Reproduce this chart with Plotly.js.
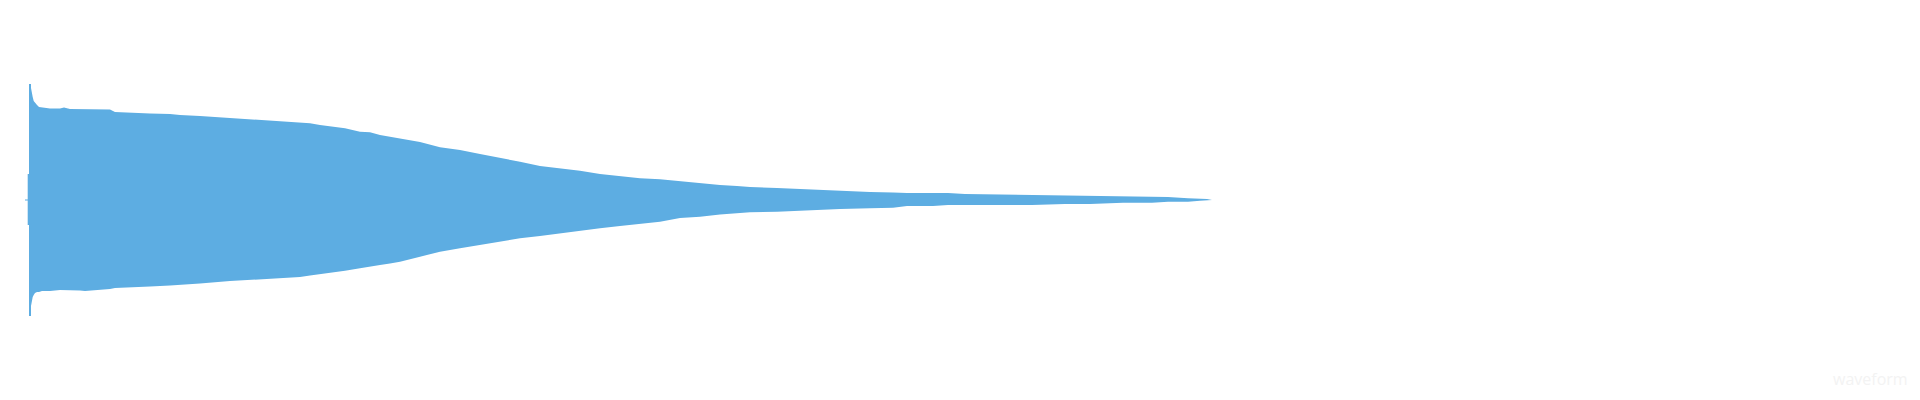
<!DOCTYPE html>
<html>
<head>
<meta charset="utf-8">
<script src="https://cdn.plot.ly/plotly-3.0.1.min.js"></script>
<style>
  html, body { margin: 0; padding: 0; background: #ffffff; }
  #chart { width: 1920px; height: 400px; }
</style>
</head>
<body>
<div id="chart"></div>
<script>
// Time (seconds) of each envelope reading
const timeSec = [
  0.250, 0.277, 0.277, 0.290, 0.290, 0.310, 0.310, 0.317, 0.327, 0.337, 0.350, 0.370, 0.390,
  0.420, 0.500, 0.600, 0.640, 0.700, 0.800, 0.850, 1.000, 1.100, 1.150, 1.300, 1.500, 1.700,
  1.800, 2.000, 2.300, 2.600, 2.800, 2.900, 3.000, 3.100, 3.200, 3.330, 3.450, 3.600, 3.700,
  3.800, 3.900, 4.000, 4.200, 4.400, 4.600, 4.800, 5.000, 5.200, 5.400, 5.600, 5.800,
  6.000, 6.200, 6.400, 6.600, 6.800, 7.000, 7.200, 7.370, 7.500, 7.770, 7.970, 8.170,
  8.400, 8.700, 8.930, 9.070, 9.330, 9.480, 9.650, 10.320, 10.650, 10.900, 11.230,
  11.520, 11.680, 11.880, 12.000, 12.070, 12.120
];

// Upper envelope (positive peak amplitude)
const upperAmp = [
  0.003, 0.003, 0.130, 0.130, 0.580, 0.580, 0.560, 0.535, 0.515, 0.495, 0.485, 0.475, 0.465,
  0.4625, 0.4575, 0.458, 0.463, 0.455, 0.4545, 0.453, 0.455, 0.4525, 0.440, 0.4385, 0.433, 0.430,
  0.425, 0.420, 0.410, 0.400, 0.395, 0.392, 0.3885, 0.3835, 0.375, 0.3665, 0.3585, 0.3415, 0.3385,
  0.325, 0.3165, 0.305, 0.290, 0.2635, 0.250, 0.230, 0.2115, 0.1915, 0.170, 0.1585, 0.1465,
  0.130, 0.120, 0.1085, 0.1035, 0.0935, 0.085, 0.075, 0.070, 0.065, 0.060, 0.055, 0.050,
  0.045, 0.040, 0.0375, 0.035, 0.035, 0.035, 0.030, 0.025, 0.025, 0.020, 0.020,
  0.015, 0.015, 0.0085, 0.0085, 0.005, 0.000
];

// Lower envelope (negative peak amplitude)
const lowerAmp = [
  -0.003, -0.003, -0.125, -0.125, -0.580, -0.580, -0.530, -0.510, -0.485, -0.475, -0.465, -0.460, -0.460,
  -0.455, -0.455, -0.450, -0.450, -0.450, -0.4525, -0.455, -0.450, -0.445, -0.440, -0.4385, -0.433, -0.428,
  -0.425, -0.4175, -0.405, -0.3965, -0.3925, -0.389, -0.385, -0.3775, -0.3715, -0.3635, -0.3535, -0.3415, -0.335,
  -0.325, -0.3175, -0.3085, -0.2835, -0.2585, -0.2415, -0.225, -0.2085, -0.1915, -0.180, -0.1665, -0.1535,
  -0.1415, -0.130, -0.120, -0.1085, -0.090, -0.0835, -0.0725, -0.0675, -0.0615, -0.0585, -0.0535, -0.050,
  -0.045, -0.0415, -0.0385, -0.030, -0.030, -0.025, -0.025, -0.025, -0.020, -0.020, -0.0135,
  -0.0135, -0.0085, -0.0085, -0.0035, -0.0035, 0.000
];

const waveColor = '#5dade2';

const traces = [
  { x: timeSec, y: upperAmp, type: 'scatter', mode: 'lines', name: 'upper',
    line: { width: 0, color: waveColor }, fill: 'tozeroy', fillcolor: waveColor,
    hoverinfo: 'skip', showlegend: false },
  { x: timeSec, y: lowerAmp, type: 'scatter', mode: 'lines', name: 'lower',
    line: { width: 0, color: waveColor }, fill: 'tozeroy', fillcolor: waveColor,
    hoverinfo: 'skip', showlegend: false }
];

const layout = {
  width: 1920, height: 400,
  margin: { l: 0, r: 0, t: 0, b: 0, pad: 0 },
  paper_bgcolor: '#ffffff', plot_bgcolor: '#ffffff',
  showlegend: false,
  xaxis: { range: [0, 19.2], autorange: false, showgrid: false, zeroline: false, showticklabels: false, ticks: '', showline: false, fixedrange: true },
  yaxis: { range: [-1, 1], autorange: false, showgrid: false, zeroline: false, showticklabels: false, ticks: '', showline: false, fixedrange: true }
};

Plotly.newPlot('chart', traces, layout, { displayModeBar: false, staticPlot: true }).then(function (gd) {
  return Plotly.relayout(gd, { annotations: [{ text: 'waveform', x: 0.995, y: 0.02, xref: 'paper', yref: 'paper', xanchor: 'right', yanchor: 'bottom', showarrow: false, font: { size: 16, color: '#f3f3f3' } }] });
});
</script>
</body>
</html>
